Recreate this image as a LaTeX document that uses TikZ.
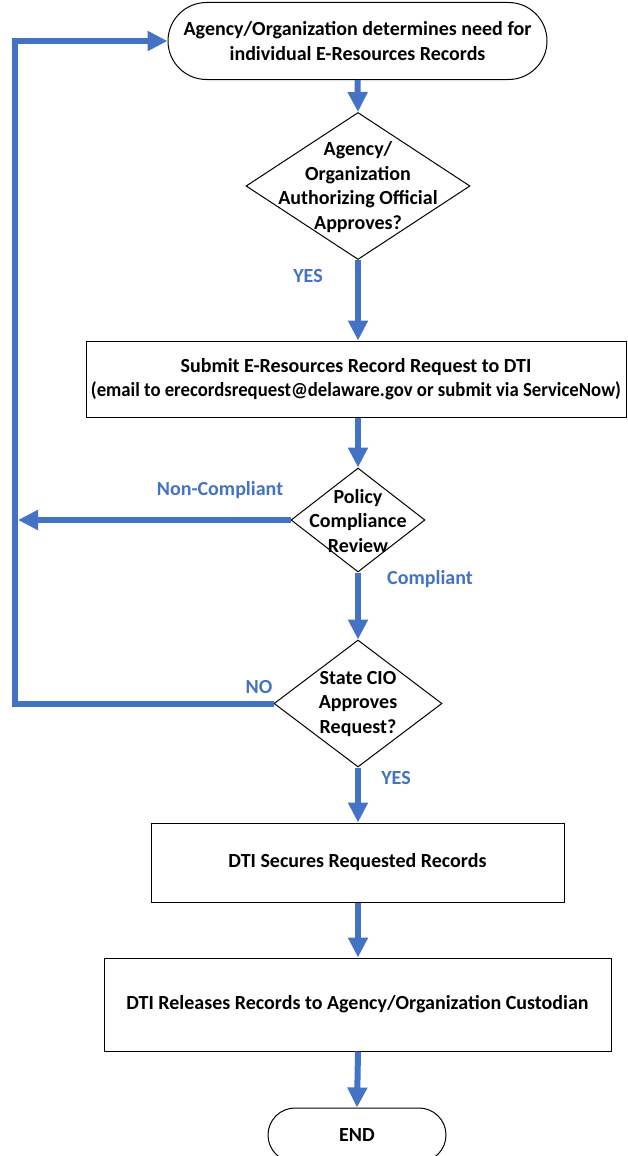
\documentclass[tikz,border=0pt]{standalone}
\usepackage{fontspec}
\setmainfont{Carlito}
\usetikzlibrary{arrows.meta,shapes.geometric,shapes.misc}
\definecolor{flowblue}{HTML}{4472C4}
\tikzset{
  txt/.style={font=\fontsize{20}{24.5}\selectfont\bfseries, align=center, text=black},
  boxnode/.style={draw=black, line width=1pt, rectangle, txt, inner sep=0pt},
  termnode/.style={draw=black, line width=1pt, rounded rectangle, txt, inner sep=0pt},
  decnode/.style={draw=black, line width=1pt, diamond, inner sep=0pt},
  flow/.style={draw=flowblue, line width=6pt, -{Triangle[width=19pt,length=20pt]}},
  lbl/.style={font=\fontsize{20}{24.5}\selectfont\bfseries, text=flowblue, inner sep=0pt}
}
\begin{document}
\begin{tikzpicture}[x=1pt,y=-1pt]
\useasboundingbox (0,0) rectangle (627,1156);
\clip (0,0) rectangle (627,1156);
\fill[white] (0,0) rectangle (627,1156);

\node[termnode, minimum width=379pt, minimum height=77pt] (start) at (357.5,41)
  {Agency/Organization determines need for\\individual E-Resources Records};

\node[decnode, minimum width=224pt, minimum height=147pt] (d1) at (358,186) {};
\node[txt] (d1t) at (358,187) {Agency/\\Organization\\Authorizing Official\\Approves?};

\node[boxnode, minimum width=540pt, minimum height=76pt] (r2) at (356,379)
  {Submit E-Resources Record Request to DTI\\\resizebox{530pt}{\height}{(email to erecordsrequest@delaware.gov or submit via ServiceNow)}};

\node[decnode, minimum width=134pt, minimum height=104pt] (d2) at (358,520) {};
\node[txt] (d2t) at (358,521) {Policy\\Compliance\\Review};

\node[decnode, minimum width=168pt, minimum height=127pt] (d3) at (358,703.5) {};
\node[txt] (d3t) at (358,704) {State CIO\\Approves\\Request?};

\node[boxnode, minimum width=413pt, minimum height=79pt] (r3) at (357.5,862.5) {DTI Secures Requested Records};

\node[boxnode, minimum width=507pt, minimum height=93pt] (r4) at (357.5,1004.5) {DTI Releases Records to Agency/Organization Custodian};

\node[termnode, minimum width=178pt, minimum height=54pt] (end) at (357,1135) {END};

\coordinate (lb) at (15,703.5);
\coordinate (lt) at (15,41);
\coordinate (ln) at (18,520);

\draw[flow] (start.south) -- (d1.north);
\draw[flow] (d1.south) -- (d1.south |- r2.north);
\draw[flow] (d1.south |- r2.south) -- (d2.north);
\draw[flow] (d2.south) -- (d3.north);
\draw[flow] (d3.south) -- (d3.south |- r3.north);
\draw[flow] (d3.south |- r3.south) -- (d3.south |- r4.north);
\draw[flow] (d3.south |- r4.south) -- (end.north);
\draw[flow] (d2.west) -- (ln);
\draw[flow] (d3.west) -- (lb) -- (lt) -- (start.west);

\node[lbl] (yes1) at (308,276) {YES};
\node[lbl] (nc) at (220,490) {Non-Compliant};
\node[lbl] (cp) at (430,579) {Compliant};
\node[lbl] (no) at (259,687) {NO};
\node[lbl] (yes2) at (396,778) {YES};
\end{tikzpicture}
\end{document}
